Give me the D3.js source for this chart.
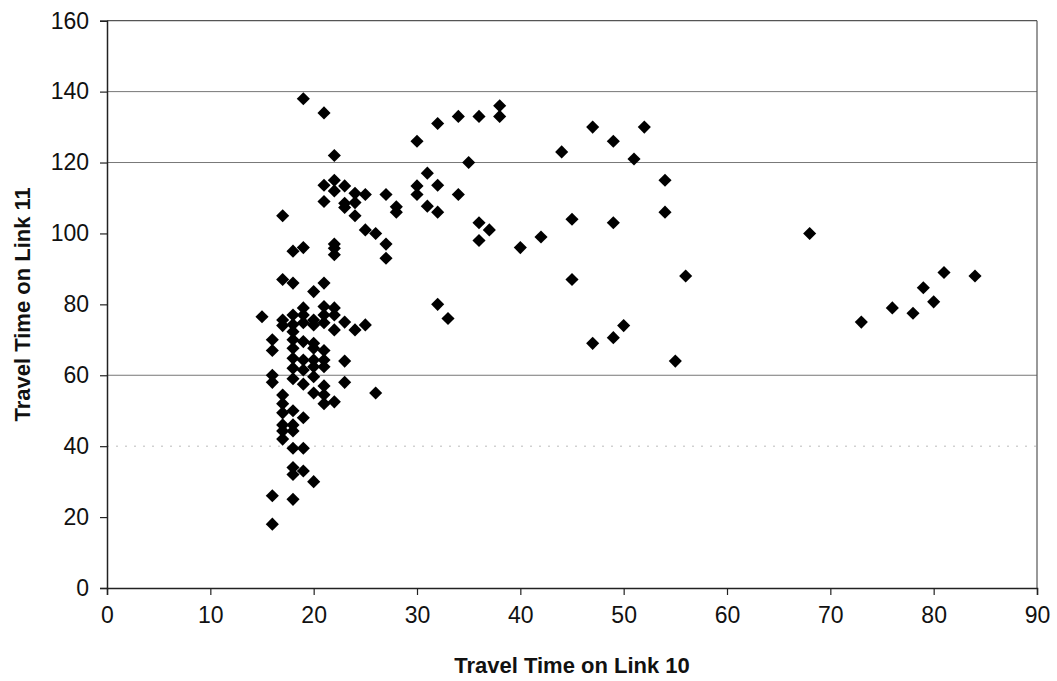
<!DOCTYPE html>
<html lang="en">
<head>
    <meta charset="UTF-8"/>
    <title>Travel Time on Link 10 vs Link 11</title>
    <script src="https://d3js.org/d3.v7.min.js"></script>
    <style>
        body { margin: 0; background: #fff; }
        svg { font-family: "Liberation Sans", Arial, sans-serif; }
        .tick text { font-size: 23px; fill: #111; }
        .axis-title { font-size: 22px; font-weight: bold; fill: #111; }
    </style>
</head>
<body>
    <script>
        // Link 10 travel time (x) and Link 11 travel time (y)
        var link10 = [
            19, 21, 22, 30, 32, 34, 36, 38, 38, 47, 49, 52, 44, 51, 35, 31,
            30, 32, 30, 34, 31, 32, 36, 37, 36, 40, 42, 45, 49, 45, 32, 33,
            50, 47, 49, 55, 56, 54, 54, 68, 73, 76, 78, 79, 80, 81, 84,
            22, 21, 23, 22, 24, 25, 27, 21, 23, 23, 24, 24, 25, 26, 28, 28,
            27, 27, 22, 22, 22, 17, 18, 19, 17, 18, 21, 20, 15,
            17, 18, 19, 19, 21, 22, 21, 22, 23, 20, 20, 21, 19, 18, 17, 22,
            24, 25, 18, 16, 16, 18, 18, 19, 20, 20, 21, 18, 19, 20, 21, 21,
            20, 23, 18, 19, 16, 16, 18, 19, 20, 23, 21, 20, 21, 26, 21, 22,
            17, 17, 18, 17, 19, 17, 18, 17, 18, 17, 18, 19, 18, 18, 19, 20,
            16, 18, 16
        ];
        var link11 = [
            138, 134, 122, 126, 131, 133, 133, 133, 136, 130, 126, 130, 123, 121, 120, 117,
            113.4, 113.6, 111, 111, 107.7, 106, 103, 101, 98, 96, 99, 104, 103, 87, 80, 76,
            74, 69, 70.6, 64, 88, 115, 106, 100, 75, 79, 77.5, 84.7, 80.7, 89, 88,
            115, 113.6, 113.4, 112, 111.3, 111, 111, 109, 108.5, 107.3, 108.7, 105, 101, 100, 107.5, 106,
            97, 93, 97, 95.8, 94, 105, 95, 96, 87, 86, 86, 83.6, 76.5,
            75.6, 77, 79, 77, 79.4, 79, 77, 77, 75, 75.6, 74.2, 74.8, 74.8, 74.3, 74, 72.8,
            72.8, 74.2, 72.3, 70, 67, 70, 67.6, 69.5, 69, 67.6, 67, 64.8, 64.3, 64.3, 64.3, 62.4,
            62.4, 64, 62, 61.5, 60, 58, 59, 57.5, 59.6, 58, 57, 55, 54.5, 55, 52, 52.5,
            54.4, 52, 50, 49.4, 48, 46, 46, 44.3, 44.3, 42, 39.4, 39.4, 34, 32, 33, 30,
            26, 25, 18
        ];

        var xTicks = [0, 10, 20, 30, 40, 50, 60, 70, 80, 90];
        var yTicks = [0, 20, 40, 60, 80, 100, 120, 140, 160];
        // only these gridlines survive in the scanned original
        var gridValues = [60, 120, 140];
        var faintGrid = [40];

        var w = 1057;
        var h = 681;
        var plotL = 107, plotR = 1037, plotT = 20.7, plotB = 588;

        var xScale = d3.scaleLinear().domain([0, 90]).range([plotL, plotR]);
        var yScale = d3.scaleLinear().domain([0, 160]).range([plotB, plotT]);

        var svg = d3.select("body")
            .append("svg")
            .attr("width", w)
            .attr("height", h);

        // gridlines
        svg.selectAll("line.grid")
            .data(gridValues)
            .enter()
            .append("line")
            .attr("class", "grid")
            .attr("x1", plotL).attr("x2", plotR)
            .attr("y1", function(d) { return yScale(d); })
            .attr("y2", function(d) { return yScale(d); })
            .attr("stroke", "#777")
            .attr("stroke-width", 1);

        svg.selectAll("line.faint")
            .data(faintGrid)
            .enter()
            .append("line")
            .attr("class", "faint")
            .attr("x1", plotL).attr("x2", plotR)
            .attr("y1", function(d) { return yScale(d); })
            .attr("y2", function(d) { return yScale(d); })
            .attr("stroke", "#bbb")
            .attr("stroke-dasharray", "2,7")
            .attr("stroke-width", 1);

        // plot frame: top and right edges
        svg.append("line")
            .attr("x1", plotL).attr("x2", plotR)
            .attr("y1", yScale(160)).attr("y2", yScale(160))
            .attr("stroke", "#555").attr("stroke-width", 1.2);
        svg.append("line")
            .attr("x1", plotR).attr("x2", plotR)
            .attr("y1", yScale(160)).attr("y2", yScale(0))
            .attr("stroke", "#555").attr("stroke-width", 1.2);

        var yAxis = svg.append("g")
            .attr("transform", "translate(" + plotL + ",0)")
            .call(d3.axisLeft(yScale).tickValues(yTicks).tickSize(7).tickPadding(11));

        var xAxis = svg.append("g")
            .attr("transform", "translate(0," + plotB + ")")
            .call(d3.axisBottom(xScale).tickValues(xTicks).tickSize(7).tickPadding(12));

        svg.selectAll(".domain").attr("stroke", "#222").attr("stroke-width", 1.5);
        svg.selectAll(".tick line").attr("stroke", "#222").attr("stroke-width", 1.2);

        // diamonds
        var points = link10.map(function(d, i) { return [d, link11[i]]; });
        var diamond = d3.symbol().type(d3.symbolSquare).size(86);

        svg.selectAll("path.pt")
            .data(points)
            .enter()
            .append("path")
            .attr("class", "pt")
            .attr("d", diamond)
            .attr("transform", function(d) {
                return "translate(" + xScale(d[0]) + "," + yScale(d[1]) + ") rotate(45)";
            })
            .attr("fill", "#000");

        // X Axis Label
        svg.append("text")
            .attr("class", "axis-title")
            .attr("text-anchor", "middle")
            .attr("x", (plotL + plotR) / 2)
            .attr("y", 673)
            .text("Travel Time on Link 10");

        // Y Axis Label
        svg.append("text")
            .attr("class", "axis-title")
            .attr("text-anchor", "middle")
            .attr("transform", "translate(30," + ((plotT + plotB) / 2) + ") rotate(-90)")
            .text("Travel Time on Link 11");
    </script>
</body>
</html>
